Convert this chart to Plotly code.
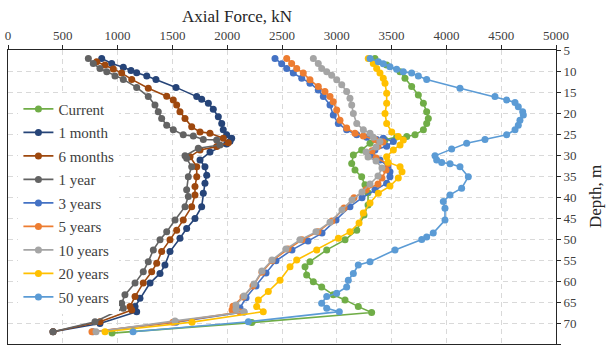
import plotly.graph_objects as go

# Axial force (kN) vs depth (m) for each loading period
current_force = [3348, 3455, 3577, 3622, 3683, 3744, 3790, 3820, 3835, 3820, 3790, 3714, 3638, 3546, 3440, 3303,
                 3227, 3151, 3136, 3166, 3227, 3257, 3285, 3285, 3248, 3182, 3075, 2908, 2755, 2710, 2725, 2786,
                 2862, 2968, 3075, 3196, 3318, 2224, 949]
current_depth = [7.0, 8.6, 10.2, 11.7, 13.7, 15.7, 17.7, 19.7, 21.3, 22.5, 24.0, 25.2, 25.6, 25.7, 26.4, 27.2,
                 28.8, 30.0, 32.0, 33.6, 35.2, 37.1, 39.0, 41.9, 44.3, 47.9, 50.2, 52.6, 55.4, 56.6, 58.6, 60.2,
                 61.4, 63.3, 64.5, 66.1, 67.5, 69.9, 72.4]

month1_force = [855, 946, 1052, 1122, 1174, 1266, 1350, 1533, 1722, 1767, 1828, 1873, 1919, 1950, 1964, 1995,
                2041, 2026, 1995, 1843, 1752, 1797, 1813, 1797, 1782, 1767, 1706, 1630, 1569, 1478, 1432, 1387,
                1296, 1204, 1159, 1174, 839, 411]
month1_depth = [7.0, 8.2, 9.1, 9.9, 10.4, 11.2, 12.0, 13.9, 16.1, 16.7, 17.7, 19.1, 20.9, 22.5, 24.0, 25.2,
                26.0, 26.7, 27.4, 29.3, 31.2, 32.8, 34.8, 36.7, 39.1, 42.3, 45.1, 47.5, 49.8, 53.0, 56.2, 58.2,
                60.5, 64.1, 66.1, 67.3, 70.1, 72.1]

month6_force = [809, 885, 961, 1037, 1129, 1280, 1448, 1508, 1539, 1569, 1615, 1676, 1752, 1843, 1964, 2010,
                1904, 1752, 1661, 1722, 1722, 1706, 1706, 1676, 1599, 1539, 1478, 1402, 1357, 1311, 1234, 1159,
                1113, 1129, 839, 411]
month6_depth = [7.8, 8.6, 9.5, 10.5, 12.0, 14.1, 16.0, 16.9, 18.1, 19.7, 21.3, 23.3, 24.5, 24.8, 26.0, 27.1,
                28.0, 28.8, 30.4, 32.8, 35.2, 37.5, 39.5, 42.3, 45.5, 47.9, 50.2, 53.0, 55.8, 57.8, 60.5, 63.7,
                66.1, 66.9, 69.7, 72.1]

year1_force = [733, 778, 839, 901, 976, 1052, 1174, 1280, 1341, 1371, 1402, 1448, 1508, 1599, 1691, 1782,
               1904, 1934, 1736, 1615, 1630, 1676, 1645, 1630, 1645, 1615, 1524, 1448, 1387, 1326, 1280, 1234,
               1159, 1067, 1037, 1052, 794, 411]
year1_depth = [7.0, 8.2, 9.4, 10.2, 11.2, 12.0, 13.9, 16.1, 18.1, 19.7, 21.3, 22.9, 24.0, 25.2, 25.5, 26.3,
               26.4, 27.6, 28.4, 30.2, 30.8, 32.8, 35.2, 38.3, 39.9, 42.3, 45.5, 48.3, 50.2, 52.6, 55.4, 57.8,
               60.5, 63.3, 65.3, 66.5, 69.7, 72.1]

year3_force = [2436, 2497, 2543, 2603, 2680, 2755, 2831, 2877, 2938, 2968, 3014, 3090, 3182, 3273, 3364, 3424,
               3516, 3455, 3348, 3321, 3394, 3467, 3485, 3485, 3455, 3348, 3230, 3120, 2993, 2865, 2737, 2591,
               2445, 2354, 2263, 2172, 2117, 2153, 1533, 776]
year3_depth = [7.0, 8.3, 9.4, 10.5, 11.7, 12.9, 14.5, 16.1, 18.1, 20.5, 22.5, 24.0, 25.2, 25.8, 26.3, 26.0,
               26.8, 27.9, 28.8, 30.0, 31.2, 32.6, 34.0, 35.2, 36.7, 38.3, 40.2, 42.3, 45.5, 48.6, 50.5, 52.6,
               55.2, 58.1, 61.2, 64.0, 66.4, 67.4, 69.8, 72.1]

year5_force = [2543, 2588, 2634, 2694, 2755, 2831, 2892, 2938, 2968, 2999, 3029, 3090, 3166, 3242, 3348, 3421,
               3376, 3321, 3358, 3467, 3449, 3412, 3376, 3267, 3157, 3066, 2956, 2828, 2682, 2555, 2409, 2317,
               2235, 2144, 2053, 2044, 2117, 1505, 766]
year5_depth = [7.0, 8.2, 9.4, 10.5, 12.1, 13.7, 14.9, 16.1, 17.3, 19.3, 21.7, 23.6, 24.8, 25.5, 26.3, 26.9,
               27.9, 29.0, 30.7, 32.1, 33.6, 35.5, 36.9, 38.3, 40.2, 42.6, 45.7, 48.3, 50.2, 52.4, 55.2, 57.9,
               61.2, 63.8, 66.0, 66.9, 67.4, 69.8, 72.1]

year10_force = [2786, 2831, 2862, 2908, 2953, 2999, 3045, 3090, 3120, 3136, 3151, 3182, 3242, 3303, 3333, 3394,
                3358, 3267, 3285, 3358, 3412, 3376, 3303, 3230, 3139, 3047, 2938, 2810, 2664, 2536, 2409, 2317,
                2245, 2153, 2080, 2080, 2153, 1524, 803]
year10_depth = [7.0, 8.2, 9.4, 10.2, 11.0, 12.1, 13.3, 14.9, 16.5, 18.1, 20.1, 22.5, 24.0, 24.8, 25.8, 26.8,
                28.1, 29.3, 30.5, 31.4, 33.1, 35.0, 36.9, 38.8, 40.7, 43.1, 46.0, 48.3, 50.2, 52.4, 55.0, 57.6,
                60.7, 63.6, 65.7, 66.7, 67.4, 69.5, 72.1]

year20_force = [3287, 3333, 3364, 3394, 3424, 3440, 3455, 3455, 3440, 3455, 3501, 3561, 3607, 3577, 3516, 3455,
                3467, 3577, 3595, 3561, 3485, 3379, 3303, 3242, 3203, 3120, 3014, 2817, 2634, 2573, 2482, 2375,
                2284, 2269, 2329, 1679, 885]
year20_depth = [7.0, 8.2, 9.4, 10.5, 11.7, 12.9, 15.3, 17.7, 20.1, 22.5, 24.5, 25.6, 26.4, 27.6, 28.8, 30.4,
                31.7, 32.8, 34.0, 35.5, 37.4, 39.1, 41.4, 43.8, 46.2, 48.3, 49.8, 52.6, 55.0, 56.6, 59.8, 62.5,
                64.5, 66.1, 67.3, 69.8, 72.1]

year50_force = [3303, 3379, 3424, 3485, 3546, 3607, 3683, 3744, 3820, 4124, 4443, 4550, 4626, 4656, 4696, 4702,
                4671, 4656, 4626, 4550, 4352, 4185, 4048, 3896, 3911, 3957, 4033, 4124, 4200, 4139, 4033, 3972,
                3987, 3987, 3880, 3820, 3775, 3531, 3303, 3196, 3151, 3105, 3090, 2999, 2908, 2862, 2908, 3023,
                2193, 1141]
year50_depth = [7.0, 7.8, 8.3, 9.0, 9.6, 10.2, 10.5, 11.2, 12.0, 14.1, 16.1, 16.9, 17.5, 18.5, 19.7, 20.5,
                21.7, 22.9, 24.0, 25.2, 26.3, 27.2, 28.6, 30.2, 31.2, 31.8, 32.1, 32.8, 35.2, 37.9, 39.5, 41.1,
                42.7, 45.5, 48.6, 49.5, 50.1, 52.6, 55.4, 56.2, 58.2, 59.8, 61.4, 62.9, 63.7, 65.3, 66.5, 67.3,
                69.7, 72.1]

series = [
    ("Current", current_force, current_depth, "#70AD47"),
    ("1 month", month1_force, month1_depth, "#264478"),
    ("6 months", month6_force, month6_depth, "#9E480E"),
    ("1 year", year1_force, year1_depth, "#636363"),
    ("3 years", year3_force, year3_depth, "#4472C4"),
    ("5 years", year5_force, year5_depth, "#ED7D31"),
    ("10 years", year10_force, year10_depth, "#A5A5A5"),
    ("20 years", year20_force, year20_depth, "#FFC000"),
    ("50 years", year50_force, year50_depth, "#5B9BD5"),
]

x_ticks = list(range(0, 5001, 500))
y_ticks = list(range(5, 76, 5))

FONT = "Liberation Serif, Times New Roman, serif"

fig = go.Figure()
for name, force, depth, color in series:
    fig.add_trace(go.Scatter(
        x=force, y=depth, name=name, legendgroup=name, mode="lines+markers",
        line=dict(color=color, width=1.6),
        marker=dict(color=color, size=7, symbol="circle"),
    ))

fig.update_layout(
    width=607, height=348,
    margin=dict(l=8, r=51, t=50, b=4),
    paper_bgcolor="white", plot_bgcolor="white",
    font=dict(family=FONT, color="#404040", size=13),
    showlegend=True,
    legend=dict(
        x=0.019, y=0.855, xanchor="left", yanchor="top",
        bgcolor="white", borderwidth=0,
        font=dict(family=FONT, size=15, color="#404040"),
        itemwidth=30, tracegroupgap=1,
    ),
    xaxis=dict(
        side="top", range=[0, 5000], tickvals=x_ticks,
        showline=True, linecolor="#262626", linewidth=1, mirror=True,
        ticks="outside", ticklen=4, tickcolor="#262626",
        showgrid=True, gridcolor="#D9D9D9", griddash="5px,4px", gridwidth=1,
        zeroline=False, tickfont=dict(size=13, family=FONT, color="#404040"),
    ),
    yaxis=dict(
        side="right", range=[75, 5], tickvals=y_ticks,
        showline=True, linecolor="#262626", linewidth=1, mirror=True,
        ticks="outside", ticklen=4, tickcolor="#262626",
        showgrid=True, gridcolor="#D9D9D9", griddash="5px,4px", gridwidth=1,
        zeroline=False, tickfont=dict(size=13, family=FONT, color="#404040"),
    ),
    annotations=[
        dict(text="Axial Force, kN", xref="paper", yref="paper",
             x=(237 - 8) / 548, y=1 + (50 - 16) / 294, xanchor="center", yanchor="middle",
             showarrow=False, font=dict(family=FONT, size=17, color="#262626")),
        dict(text="Depth, m", xref="paper", yref="paper",
             x=1 + (595 - 556) / 548, y=0.5, xanchor="center", yanchor="middle",
             textangle=-90, showarrow=False, font=dict(family=FONT, size=17, color="#262626")),
    ],
)

fig.write_html("out.html")
